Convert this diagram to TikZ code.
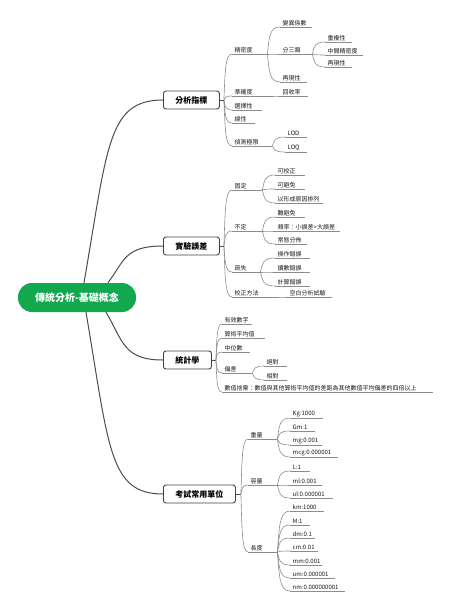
\documentclass[tikz,border=0pt]{standalone}
\usepackage{fontspec}
\setmainfont{Noto Sans CJK TC}
\usetikzlibrary{calc}
\definecolor{rootgreen}{RGB}{18,168,80}
\tikzset{
  lab/.style={anchor=south west, inner xsep=2.5pt, inner ysep=1.2pt, font=\fontsize{6}{7}\selectfont, align=left, text=black!90},
  uline/.style={draw=black!45, line width=0.6pt},
  branch/.style={draw=black!45, line width=0.6pt},
  stub/.style={draw=black!70, line width=1pt},
  mainbox/.style={draw=black!75, line width=0.9pt, rounded corners=2.5pt, fill=white, anchor=west, inner xsep=12pt, minimum height=18pt, font=\fontsize{8}{9}\selectfont\bfseries},
  rootbox/.style={fill=rootgreen, rounded corners=14pt, text=white, minimum width=118pt, minimum height=29pt, font=\fontsize{10}{12}\selectfont\bfseries},
  trunk/.style={draw=black!70, line width=1pt},
}
\newcommand{\lf}[5]{%
  \pgfmathsetmacro\tw{#4-#2-5}%
  \node[lab, text width=\tw pt] (#1) at (#2,#3) {#5};
  \draw[uline] (#1.south west) -- (#1.south east);}
\newcommand{\cnx}[5]{\draw[#1] let \p1=(#2), \p2=(#3) in (\p1) .. controls ({\x1+#4*(\x2-\x1)},{\y1+#5*(\y2-\y1)}) and ({\x1+#4*(\x2-\x1)},\y2) .. (\p2);}
\newcommand{\br}[2]{\cnx{branch}{#1}{#2}{0.15}{0.6}}
\begin{document}
\begin{tikzpicture}[x=1pt,y=-1pt]
\useasboundingbox (0,0) rectangle (450,610);
% root and main topics
\node[rootbox] (root) at (77,297.5) {傳統分析-基礎概念};
\node[mainbox] (m1) at (163,100) {分析指標};
\node[mainbox] (m2) at (163,246) {實驗誤差};
\node[mainbox] (m3) at (163,360) {統計學};
\node[mainbox] (m4) at (163,494) {考試常用單位};
\coordinate (r1) at ([xshift=7]root.north);
\coordinate (r2) at ([xshift=31]root.north);
\coordinate (r3) at ([xshift=29]root.south);
\coordinate (r4) at ([xshift=9]root.south);
\cnx{trunk}{r1}{m1.west}{0.3}{0.75}
\cnx{trunk}{r2}{m2.west}{0.3}{0.6}
\cnx{trunk}{r3}{m3.west}{0.3}{0.6}
\cnx{trunk}{r4}{m4.west}{0.3}{0.75}
\coordinate (j1) at ([xshift=4]m1.east);
\coordinate (j2) at ([xshift=4]m2.east);
\coordinate (j3) at ([xshift=4]m3.east);
\coordinate (j4) at ([xshift=5]m4.east);
\draw[stub] (m1.east) -- (j1);
\draw[stub] (m2.east) -- (j2);
\draw[stub] (m3.east) -- (j3);
\draw[stub] (m4.east) -- (j4);
% 分析指標
\lf{a1}{232}{54}{267}{精密度}
\lf{a11}{280}{27}{312}{變異係數}
\lf{a12}{280}{54}{312}{分三類}
\lf{a121}{325}{42}{352}{重複性}
\lf{a122}{325}{55}{363}{中間精密度}
\lf{a123}{325}{67}{352}{再現性}
\lf{a13}{280}{82}{307}{再現性}
\lf{a2}{232}{96}{272}{準確度}
\lf{a21}{280}{96}{308}{回收率}
\lf{a3}{232}{110}{262}{選擇性}
\lf{a4}{232}{123}{255}{線性}
\lf{a5}{232}{146}{272}{偵測極限}
\lf{a51}{285}{137}{307}{LOD}
\lf{a52}{285}{152}{307}{LOQ}
\foreach \k in {a1,a2,a3,a4,a5} {\br{j1}{\k.south west}}
\foreach \k in {a11,a12,a13} {\br{a1.south east}{\k.south west}}
\foreach \k in {a121,a122,a123} {\br{a12.south east}{\k.south west}}
\br{a2.south east}{a21.south west}
\foreach \k in {a51,a52} {\br{a5.south east}{\k.south west}}
% 實驗誤差
\lf{b1}{232}{190}{262}{固定}
\lf{b11}{275}{175}{305}{可校正}
\lf{b12}{275}{189}{305}{可避免}
\lf{b13}{275}{203}{323}{以形成原因排列}
\lf{b2}{232}{231}{262}{不定}
\lf{b21}{275}{217}{305}{難避免}
\lf{b22}{275}{231}{340}{頻率：小誤差>大誤差}
\lf{b23}{275}{244}{307}{常態分佈}
\lf{b3}{232}{272}{260}{疏失}
\lf{b31}{275}{258}{310}{操作錯誤}
\lf{b32}{275}{272}{310}{讀數錯誤}
\lf{b33}{275}{286}{310}{計算錯誤}
\lf{b4}{232}{297}{277}{校正方法}
\lf{b41}{287}{297}{332}{空白分析試驗}
\foreach \k in {b1,b2,b3,b4} {\br{j2}{\k.south west}}
\foreach \k in {b11,b12,b13} {\br{b1.south east}{\k.south west}}
\foreach \k in {b21,b22,b23} {\br{b2.south east}{\k.south west}}
\foreach \k in {b31,b32,b33} {\br{b3.south east}{\k.south west}}
\br{b4.south east}{b41.south west}
% 統計學
\lf{c1}{222}{324}{252}{有效數字}
\lf{c2}{222}{338}{265}{算術平均值}
\lf{c3}{222}{352}{250}{中位數}
\lf{c4}{222}{373}{252}{偏差}
\lf{c41}{264}{366}{287}{絕對}
\lf{c42}{264}{380}{287}{相對}
\lf{c5}{222}{392}{433}{數值捨棄：數值與其他算術平均值的差距為其他數值平均偏差的四倍以上}
\foreach \k in {c1,c2,c3,c4,c5} {\br{j3}{\k.south west}}
\foreach \k in {c41,c42} {\br{c4.south east}{\k.south west}}
% 考試常用單位
\lf{d1}{248}{439}{277}{重量}
\lf{d11}{290}{418}{323}{Kg:1000}
\lf{d12}{290}{431}{315}{Gm:1}
\lf{d13}{290}{445}{322}{mg:0.001}
\lf{d14}{290}{457}{338}{mcg:0.000001}
\lf{d2}{248}{485}{277}{容量}
\lf{d21}{290}{471}{310}{L:1}
\lf{d22}{290}{485}{322}{ml:0.001}
\lf{d23}{290}{498}{333}{ul:0.000001}
\lf{d3}{248}{552}{277}{長度}
\lf{d31}{290}{511}{324}{km:1000}
\lf{d32}{290}{525}{310}{M:1}
\lf{d33}{290}{538}{315}{dm:0.1}
\lf{d34}{290}{551}{318}{cm:0.01}
\lf{d35}{290}{565}{322}{mm:0.001}
\lf{d36}{290}{578}{335}{um:0.000001}
\lf{d37}{290}{591}{345}{nm:0.000000001}
\foreach \k in {d1,d2,d3} {\br{j4}{\k.south west}}
\foreach \k in {d11,d12,d13,d14} {\br{d1.south east}{\k.south west}}
\foreach \k in {d21,d22,d23} {\br{d2.south east}{\k.south west}}
\foreach \k in {d31,d32,d33,d34,d35,d36,d37} {\br{d3.south east}{\k.south west}}
\end{tikzpicture}
\end{document}
